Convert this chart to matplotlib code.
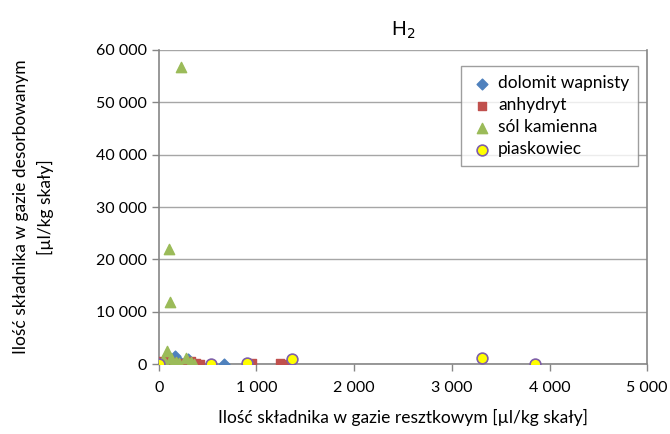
import numpy as np
import matplotlib.pyplot as plt
from matplotlib.ticker import FuncFormatter

plt.rcParams['font.family'] = ['Lato', 'DejaVu Sans']

# dolomit wapnisty
dol_x = [20, 60, 120, 165, 220, 300, 665]
dol_y = [300, 800, 200, 1500, 500, 1000, 0]
# anhydryt
anh_x = [0, 30, 90, 150, 250, 330, 380, 420, 950, 1240, 1310]
anh_y = [600, 200, 900, 400, 300, 600, 200, 100, 200, 300, 0]
# sol kamienna
sol_x = [225, 100, 110, 85, 40, 130, 180, 210, 280, 330, 360, 60, 150]
sol_y = [56800, 22000, 11800, 2500, 800, 1200, 500, 300, 1100, 400, 100, 200, 0]
# piaskowiec
pia_x = [0, 530, 900, 1360, 3310, 3850]
pia_y = [0, 0, 300, 1000, 1200, 0]

fig = plt.figure(figsize=(6.7, 4.34), dpi=100)
ax = fig.add_axes([0.237, 0.161, 0.729, 0.724])

ax.scatter(dol_x, dol_y, marker='D', s=30, color='#4F81BD', label='dolomit wapnisty', zorder=3)
ax.scatter(anh_x, anh_y, marker='s', s=40, color='#C0504D', label='anhydryt', zorder=3)
ax.scatter(sol_x, sol_y, marker='^', s=55, color='#9BBB59', label='sól kamienna', zorder=3)
ax.scatter(pia_x, pia_y, marker='o', s=60, color='#FFFF00', edgecolor='#7F5FA8',
           linewidth=1.2, label='piaskowiec', zorder=4)

ax.set_xlim(0, 5000)
ax.set_ylim(0, 60000)
ax.set_xticks(np.arange(0, 5001, 1000))
ax.set_yticks(np.arange(0, 60001, 10000))
fmt = FuncFormatter(lambda v, p: f'{int(v):,}'.replace(',', ' '))
ax.xaxis.set_major_formatter(fmt)
ax.yaxis.set_major_formatter(fmt)
ax.yaxis.grid(True, color='#A6A6A6', linewidth=1)
ax.set_axisbelow(True)
for s in ['left', 'bottom', 'right']:
    ax.spines[s].set_color('#868686')
    ax.spines[s].set_linewidth(1.2)
ax.spines['top'].set_visible(False)
ax.tick_params(colors='#868686', length=5, width=1, labelcolor='black', labelsize=11.5)
ax.tick_params(axis='x', pad=7)

ax.set_title('H$_2$', fontsize=14, pad=10)
ax.set_xlabel('Ilość składnika w gazie resztkowym [µl/kg skały]', fontsize=12.5, labelpad=10)
ax.set_ylabel('Ilość składnika w gazie desorbowanym\n[µl/kg skały]', fontsize=12.5,
              labelpad=30, linespacing=1.6)

leg = ax.legend(loc='upper right', bbox_to_anchor=(0.999, 0.975), fontsize=12.5,
                frameon=True, fancybox=False, edgecolor='#868686', handletextpad=0.15,
                handlelength=1.5, borderpad=0.5, labelspacing=0.35, scatterpoints=1)
leg.get_frame().set_linewidth(1)

fig.savefig('out.png', dpi=100)
